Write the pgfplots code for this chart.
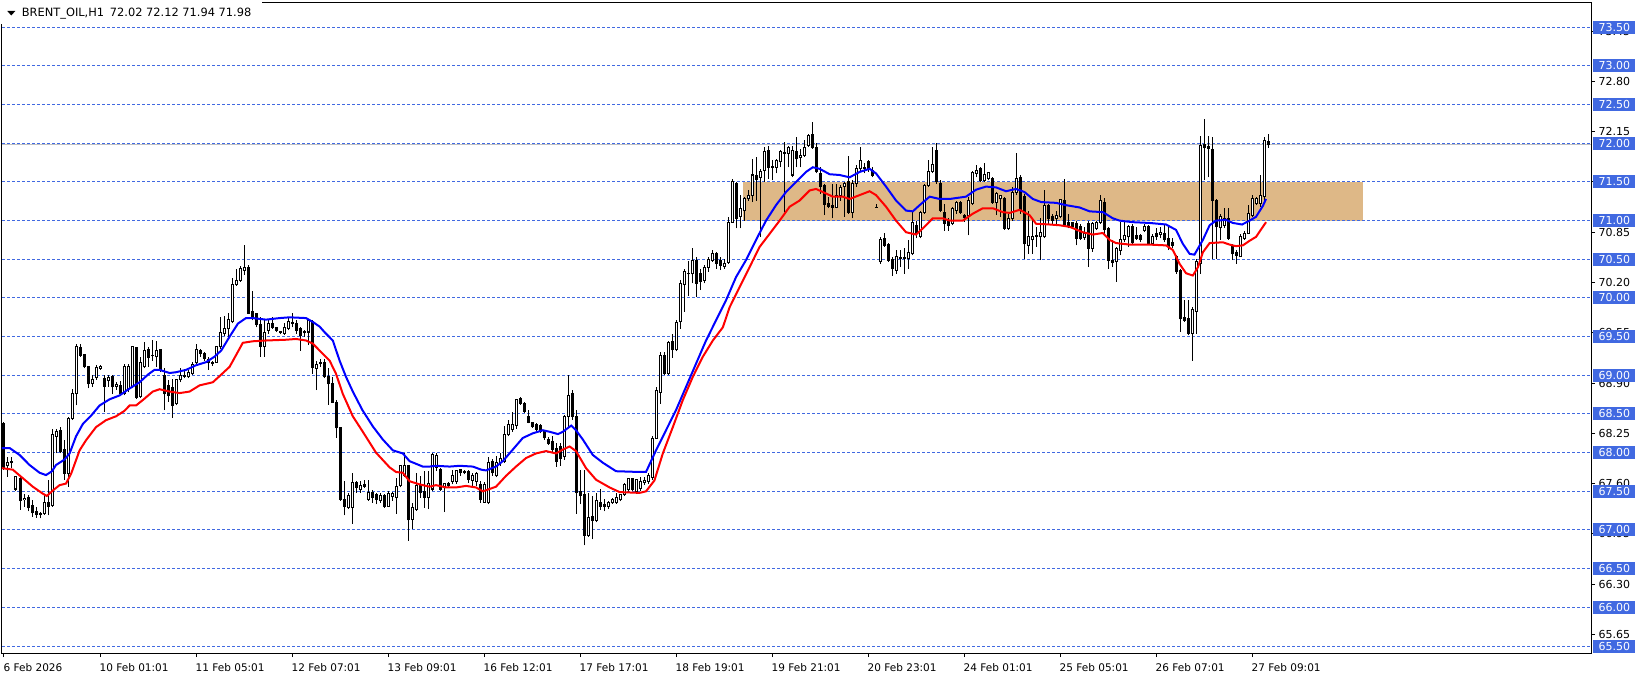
\documentclass[border=0pt]{standalone}
\usepackage{fontspec}
\setmainfont{DejaVu Sans}
\usepackage{pgfplots}
\usepackage{pgfplotstable}
\pgfplotsset{compat=1.18}

\definecolor{lvl}{RGB}{65,105,225}
\definecolor{zone}{RGB}{222,184,135}
\definecolor{bidline}{RGB}{192,192,192}

% H1 candles: bar index, open, high, low, close
\pgfplotstableread{
i o h l c
0 68.38 68.40 67.78 67.80
1 67.83 67.94 67.69 67.87
2 67.88 67.94 67.80 67.87
3 67.53 67.70 67.51 67.69
4 67.66 67.68 67.26 67.38
5 67.39 67.47 67.30 67.41
6 67.42 67.45 67.24 67.29
7 67.32 67.39 67.17 67.22
8 67.24 67.30 67.16 67.20
9 67.21 67.23 67.15 67.20
10 67.21 67.47 67.20 67.35
11 67.36 67.65 67.19 67.31
12 67.32 68.31 67.30 68.23
13 68.21 68.31 67.99 68.27
14 68.28 68.33 67.99 68.01
15 68.04 68.16 67.65 67.73
16 67.73 68.46 67.56 68.44
17 68.44 68.82 68.42 68.77
18 68.76 69.41 68.61 69.37
19 69.36 69.40 69.24 69.26
20 69.27 69.28 69.09 69.11
21 69.11 69.12 68.83 68.89
22 68.90 69.00 68.85 68.94
23 68.97 69.13 68.94 69.10
24 69.09 69.13 69.07 69.11
25 68.96 69.00 68.52 68.86
26 68.93 69.01 68.85 68.97
27 68.98 69.00 68.76 68.85
28 68.86 68.91 68.81 68.88
29 68.87 68.93 68.74 68.76
30 68.76 69.15 68.74 69.12
31 68.83 69.15 68.78 69.12
32 68.85 69.38 68.83 69.37
33 69.36 69.37 68.70 68.71
34 68.72 69.24 68.71 69.17
35 69.11 69.43 69.09 69.32
36 69.34 69.36 69.11 69.23
37 69.25 69.46 69.19 69.26
38 69.24 69.45 69.11 69.32
39 69.33 69.34 69.04 69.07
40 69.00 69.09 68.55 68.76
41 68.87 68.94 68.66 68.74
42 68.84 68.95 68.45 68.61
43 68.63 68.95 68.61 68.94
44 68.94 69.09 68.91 69.00
45 68.99 69.08 68.96 69.00
46 68.98 69.07 68.96 69.03
47 69.02 69.17 69.01 69.14
48 69.16 69.41 69.15 69.33
49 69.32 69.34 69.24 69.28
50 69.28 69.30 69.19 69.22
51 69.21 69.24 69.07 69.16
52 69.16 69.19 69.12 69.15
53 69.17 69.37 69.16 69.37
54 69.37 69.75 69.34 69.55
55 69.54 69.77 69.51 69.60
56 69.60 69.80 69.50 69.72
57 69.69 70.26 69.67 70.17
58 70.17 70.38 70.16 70.22
59 70.23 70.41 70.21 70.38
60 70.36 70.68 70.30 70.39
61 70.40 70.42 69.79 69.80
62 69.82 70.09 69.71 69.74
63 69.80 69.81 69.62 69.66
64 69.66 69.75 69.24 69.37
65 69.37 69.71 69.24 69.55
66 69.58 69.73 69.54 69.67
67 69.67 69.75 69.60 69.62
68 69.62 69.63 69.56 69.58
69 69.56 69.57 69.53 69.55
70 69.54 69.67 69.52 69.62
71 69.61 69.75 69.58 69.69
72 69.67 69.80 69.62 69.68
73 69.67 69.71 69.54 69.58
74 69.60 69.62 69.32 69.52
75 69.56 69.58 69.50 69.55
76 69.56 69.73 69.39 69.71
77 69.69 69.71 69.02 69.10
78 69.09 69.19 68.81 69.14
79 69.17 69.21 69.11 69.15
80 69.17 69.21 68.96 68.98
81 68.98 69.09 68.62 68.89
82 68.89 68.98 68.64 68.65
83 68.65 68.68 68.19 68.32
84 68.32 68.32 67.38 67.40
85 67.40 67.63 67.19 67.31
86 67.29 67.48 67.27 67.44
87 67.29 67.74 67.08 67.61
88 67.62 67.63 67.48 67.55
89 67.52 67.63 67.48 67.58
90 67.59 67.65 67.54 67.56
91 67.40 67.65 67.38 67.48
92 67.49 67.52 67.35 67.42
93 67.46 67.48 67.33 67.40
94 67.38 67.48 67.35 67.45
95 67.45 67.47 67.29 67.31
96 67.31 67.50 67.31 67.47
97 67.43 67.49 67.38 67.47
98 67.42 67.67 67.21 67.56
99 67.57 67.84 67.55 67.83
100 67.70 68.00 67.68 67.83
101 67.83 67.84 66.86 67.13
102 67.14 67.35 67.01 67.29
103 67.27 67.74 67.25 67.57
104 67.57 67.70 67.42 67.48
105 67.50 67.76 67.29 67.42
106 67.42 67.76 67.27 67.60
107 67.53 68.00 67.50 67.97
108 67.81 67.99 67.76 67.96
109 67.78 67.80 67.50 67.53
110 67.55 67.61 67.23 67.60
111 67.60 67.62 67.56 67.58
112 67.63 67.78 67.59 67.70
113 67.63 67.78 67.60 67.77
114 67.78 67.79 67.70 67.74
115 67.76 67.78 67.72 67.74
116 67.76 67.78 67.61 67.65
117 67.64 67.74 67.57 67.71
118 67.63 67.75 67.57 67.73
119 67.59 67.63 67.35 67.40
120 67.36 67.62 67.35 67.59
121 67.35 67.95 67.33 67.87
122 67.88 67.92 67.70 67.74
123 67.70 67.96 67.68 67.87
124 67.87 68.00 67.83 67.93
125 67.89 68.34 67.87 68.24
126 68.23 68.42 68.21 68.37
127 68.30 68.53 68.27 68.37
128 68.35 68.70 68.31 68.69
129 68.70 68.72 68.62 68.63
130 68.63 68.65 68.51 68.53
131 68.47 68.55 68.38 68.39
132 68.39 68.40 68.32 68.34
133 68.36 68.38 68.27 68.30
134 68.35 68.37 68.25 68.27
135 68.27 68.29 68.17 68.19
136 68.17 68.20 68.10 68.12
137 68.15 68.21 68.00 68.04
138 68.06 68.12 67.82 67.89
139 68.08 68.12 67.83 67.93
140 67.95 68.49 67.91 68.47
141 68.47 69.00 68.32 68.74
142 68.76 68.81 68.42 68.47
143 68.47 68.55 67.21 67.48
144 67.50 67.78 67.33 67.44
145 67.46 67.78 66.80 66.93
146 66.93 67.48 66.91 67.16
147 67.18 67.44 66.88 67.12
148 67.12 67.48 67.10 67.38
149 67.36 67.53 67.26 67.31
150 67.33 67.40 67.24 67.31
151 67.31 67.38 67.27 67.36
152 67.35 67.42 67.34 67.40
153 67.35 67.48 67.34 67.42
154 67.39 67.47 67.37 67.46
155 67.46 67.61 67.44 67.59
156 67.52 67.66 67.49 67.66
157 67.66 67.66 67.50 67.53
158 67.50 67.66 67.47 67.65
159 67.54 67.68 67.50 67.63
160 67.62 67.68 67.58 67.64
161 67.63 67.74 67.60 67.70
162 67.68 68.22 67.64 68.18
163 68.18 68.85 68.18 68.80
164 68.78 69.30 68.63 69.25
165 69.25 69.30 69.00 69.02
166 69.02 69.45 69.00 69.43
167 69.44 69.54 69.23 69.33
168 69.33 69.71 69.31 69.68
169 69.69 70.23 69.60 70.19
170 70.18 70.38 69.82 70.34
171 70.31 70.48 70.03 70.32
172 70.31 70.64 70.19 70.49
173 70.49 70.53 70.01 70.19
174 70.31 70.38 70.10 70.21
175 70.23 70.42 70.19 70.40
176 70.40 70.53 70.34 70.50
177 70.49 70.62 70.47 70.57
178 70.57 70.60 70.38 70.44
179 70.49 70.53 70.36 70.42
180 70.41 70.51 70.38 70.45
181 70.46 71.05 70.44 70.98
182 70.98 71.54 70.98 71.50
183 71.48 71.50 70.90 71.03
184 71.05 71.33 70.90 71.16
185 71.13 71.31 71.00 71.28
186 71.28 71.39 71.26 71.33
187 71.33 71.80 71.24 71.59
188 71.58 71.82 71.26 71.53
189 71.56 71.67 70.79 71.64
190 71.65 71.95 71.50 71.89
191 71.91 71.97 71.54 71.69
192 71.69 71.78 71.52 71.70
193 71.69 71.80 71.61 71.78
194 71.76 71.91 71.69 71.89
195 71.87 72.02 71.11 71.88
196 71.87 71.97 71.69 71.95
197 71.59 71.97 71.56 71.91
198 71.89 72.08 71.69 71.80
199 71.82 71.93 71.69 71.84
200 71.84 72.04 71.82 71.95
201 71.97 72.12 71.95 72.10
202 72.12 72.27 71.93 71.95
203 71.95 72.00 71.61 71.63
204 71.61 71.69 71.35 71.44
205 71.46 71.48 71.07 71.21
206 71.22 71.30 71.16 71.18
207 71.19 71.48 71.03 71.17
208 71.17 71.48 71.16 71.33
209 71.33 71.46 71.26 71.43
210 71.44 71.50 71.05 71.48
211 71.50 71.84 71.09 71.11
212 71.11 71.52 71.03 71.48
213 71.48 71.72 71.44 71.67
214 71.67 71.95 71.63 71.78
215 71.69 71.74 71.61 71.68
216 71.76 71.78 71.63 71.67
217 71.65 71.69 71.56 71.59
218 71.17 71.21 71.17 71.17
219 70.47 70.79 70.44 70.75
220 70.77 70.84 70.66 70.68
221 70.69 70.71 70.47 70.49
222 70.50 70.53 70.29 70.38
223 70.36 70.62 70.31 70.53
224 70.52 70.62 70.40 70.51
225 70.51 70.64 70.31 70.52
226 70.51 70.75 70.38 70.59
227 70.57 71.11 70.55 70.98
228 70.94 71.00 70.77 70.83
229 70.79 71.13 70.77 71.11
230 71.11 71.48 71.09 71.46
231 71.46 71.78 71.44 71.64
232 71.64 71.95 71.61 71.73
233 71.91 72.00 71.48 71.50
234 71.48 71.52 71.11 71.13
235 71.11 71.22 70.87 70.96
236 71.00 71.03 70.87 70.94
237 70.96 71.18 70.94 71.16
238 71.13 71.26 71.09 71.24
239 71.24 71.26 71.09 71.11
240 71.06 71.09 70.98 71.04
241 71.07 71.31 70.81 71.26
242 71.22 71.64 71.20 71.62
243 71.61 71.72 71.56 71.65
244 71.67 71.69 71.50 71.52
245 71.52 71.74 71.50 71.60
246 71.54 71.63 71.52 71.62
247 71.54 71.56 71.22 71.24
248 71.24 71.37 71.07 71.35
249 71.28 71.33 71.05 71.32
250 71.29 71.31 70.88 70.90
251 70.90 71.09 70.88 71.03
252 71.03 71.44 71.00 71.37
253 71.37 71.87 71.33 71.54
254 71.56 71.59 71.09 71.13
255 71.31 71.35 70.51 70.70
256 70.68 71.13 70.57 70.79
257 70.75 71.03 70.57 70.80
258 70.81 70.92 70.66 70.80
259 70.79 71.03 70.49 70.85
260 70.79 71.39 70.77 71.20
261 71.20 71.22 70.96 71.03
262 71.05 71.09 70.96 71.00
263 71.03 71.13 70.93 71.07
264 71.05 71.28 71.03 71.27
265 71.26 71.54 70.92 70.94
266 70.97 71.09 70.90 70.92
267 70.97 70.98 70.90 70.93
268 70.96 71.00 70.68 70.77
269 70.92 70.96 70.75 70.77
270 70.78 70.92 70.75 70.84
271 70.96 71.00 70.40 70.64
272 70.64 70.98 70.60 70.96
273 70.90 71.00 70.88 70.98
274 70.98 71.33 70.96 71.26
275 71.24 71.29 70.80 70.88
276 70.90 70.92 70.38 70.49
277 70.48 70.75 70.40 70.46
278 70.47 70.66 70.21 70.64
279 70.62 70.98 70.55 70.75
280 70.75 70.98 70.72 70.81
281 70.79 70.94 70.66 70.92
282 70.92 70.96 70.70 70.72
283 70.81 70.92 70.75 70.77
284 70.81 70.83 70.72 70.75
285 70.87 70.96 70.85 70.92
286 70.92 70.94 70.69 70.70
287 70.70 70.83 70.68 70.79
288 70.83 70.90 70.75 70.79
289 70.82 70.92 70.77 70.85
290 70.83 70.94 70.72 70.75
291 70.77 70.92 70.62 70.66
292 70.72 70.77 70.64 70.68
293 70.53 70.55 70.31 70.34
294 70.35 70.38 69.56 69.73
295 69.75 69.97 69.69 69.71
296 69.73 69.97 69.52 69.54
297 69.54 69.88 69.19 69.85
298 69.83 70.50 69.54 70.47
299 70.44 72.10 70.31 71.97
300 71.99 72.31 71.52 71.94
301 71.96 72.10 71.56 71.93
302 71.92 72.08 70.51 71.26
303 71.26 71.28 70.51 70.92
304 70.91 71.09 70.75 71.05
305 70.94 71.16 70.90 71.03
306 71.03 71.16 70.75 70.77
307 70.68 70.70 70.49 70.57
308 70.59 70.62 70.44 70.55
309 70.53 70.83 70.53 70.80
310 70.77 70.87 70.75 70.84
311 70.84 71.20 70.83 71.09
312 71.07 71.33 71.05 71.28
313 71.22 71.31 71.20 71.28
314 71.22 71.59 71.18 71.33
315 71.31 72.08 71.26 72.04
316 72.02 72.12 71.94 71.98
}\candles

% upper moving average (blue)
\pgfplotstableread{
i p
-0.5 68.06
1.4 68.06
3.9 67.97
6.4 67.84
8.9 67.74
10.5 67.71
12 67.76
13 67.84
15.1 67.91
16.4 67.99
18 68.21
19.7 68.37
21.8 68.48
23.9 68.61
26.4 68.69
28.9 68.74
31.4 68.83
33.9 68.91
36 69.01
37.6 69.07
38.9 69.07
41.4 69.03
43 69.04
45.5 69.07
48 69.13
50.5 69.17
52.6 69.24
54.3 69.32
56.4 69.50
58.5 69.67
60.5 69.74
62.2 69.74
65.5 69.72
68.9 69.74
71.4 69.75
75.5 69.74
77.2 69.69
78.9 69.63
80.1 69.56
82.2 69.45
83.9 69.19
85.5 68.98
87.2 68.79
89.6 68.55
92.2 68.34
94.7 68.17
97.2 68.03
99.7 67.99
101.4 67.89
104.7 67.82
106.4 67.82
108 67.83
111.4 67.82
113.9 67.83
117.2 67.82
119.3 67.78
120.5 67.77
123 67.82
124.7 67.89
127.2 68.04
129.7 68.19
132.2 68.25
134.7 68.29
136.4 68.27
138.5 68.24
139.7 68.27
141.8 68.35
143 68.29
144.7 68.17
147.2 67.97
149.7 67.87
153 67.76
158.9 67.75
160.5 67.75
163 68.03
165.5 68.29
168 68.55
170.5 68.85
173 69.15
175.5 69.45
178 69.71
180.5 69.97
183 70.27
185.5 70.49
188 70.75
190.5 71.00
193 71.20
195.5 71.37
198 71.50
200.5 71.63
202.2 71.69
203.9 71.67
206.4 71.60
208.9 71.59
211.4 71.56
213.9 71.63
216.4 71.67
218 71.61
220.5 71.44
223 71.26
225.5 71.13
227.2 71.12
228.9 71.20
231.4 71.31
233.9 71.28
236.4 71.28
240.5 71.31
243 71.40
245.5 71.44
248 71.43
250.5 71.38
253 71.41
255.1 71.37
257.2 71.28
259.3 71.24
263 71.23
265.5 71.20
268.9 71.17
271.4 71.12
274.7 71.11
277.2 71.03
278.9 71.00
282.2 70.98
286.4 70.97
290.5 70.95
293 70.88
294.7 70.70
296.4 70.57
297.6 70.56
299.7 70.75
301.4 70.94
303 71.00
305.5 71.01
307.2 70.97
309.5 70.95
311.4 71.00
313 71.05
314.7 71.19
315.5 71.28
}\mahigh

% lower moving average (red)
\pgfplotstableread{
i p
-0.5 67.80
2.2 67.78
4.7 67.67
7.2 67.56
9.7 67.47
10.7 67.44
12.2 67.51
13.9 67.58
15.5 67.60
16.8 67.73
18.9 68.03
20.5 68.16
23 68.33
25.5 68.42
28 68.47
30.1 68.54
31.4 68.61
33 68.61
34.7 68.68
37.2 68.79
38.9 68.82
41.4 68.79
43.9 68.77
46.4 68.79
48.9 68.87
52.2 68.91
53.9 68.99
56.4 69.11
58 69.26
59.7 69.42
62.2 69.44
65.5 69.45
70.5 69.46
73 69.47
75.5 69.45
77.2 69.41
78.9 69.32
81.4 69.19
83 69.02
84.7 68.76
87.2 68.47
89.7 68.27
93 68.00
96.4 67.81
98 67.75
99.7 67.74
101.4 67.63
103.9 67.59
106.4 67.56
108 67.58
110.5 67.55
113 67.55
115.5 67.57
118 67.55
119.7 67.50
121.4 67.53
123 67.56
125.5 67.70
128 67.82
130.5 67.93
133 67.99
135.5 68.02
138 67.99
139.7 68.04
141.4 68.08
143 68.02
145.5 67.80
148 67.65
151.4 67.55
153.9 67.49
158.9 67.48
160.5 67.50
162.6 67.64
164.7 67.99
167.2 68.33
169.7 68.68
172.2 68.98
174.7 69.24
177.2 69.45
179.7 69.62
181.4 69.88
183.9 70.14
186.4 70.40
188.9 70.66
191.4 70.83
193.9 71.00
196.4 71.18
198.9 71.26
201.4 71.39
203 71.41
204.7 71.37
207.2 71.31
209.7 71.31
211.4 71.28
213.9 71.33
216.4 71.38
218 71.33
220.5 71.18
223 71.00
225.5 70.85
228 70.82
229.7 70.90
232.2 71.03
234.7 71.03
236.4 71.00
239.7 71.00
242.2 71.09
244.7 71.16
247.2 71.16
249.7 71.11
251.4 71.10
253.9 71.14
256.4 71.07
258 70.96
261.4 70.95
263.9 70.94
266.4 70.92
269.7 70.85
272.2 70.82
274.7 70.84
276.4 70.75
278 70.71
281.4 70.69
286.4 70.69
290.5 70.68
292.2 70.62
293.9 70.44
295.5 70.32
297.2 70.29
298.5 70.40
299.7 70.59
301.4 70.71
304.7 70.72
306.4 70.69
308 70.67
309.7 70.68
311.4 70.74
313 70.79
314.7 70.92
315.5 70.98
}\malow

\pgfplotsset{chartbox/.style={
  scale only axis, width=1589pt, height=650pt,
  xmin=-0.5, xmax=396.75, ymin=65.4095, ymax=73.814,
  at={(2pt,25pt)}, anchor=south west}}

\newcommand{\lvlbox}[2]{\node[anchor=west, xshift=2pt, fill=lvl, text=white, inner sep=0pt,
  minimum width=42pt, minimum height=13pt, font=\fontsize{11}{13}\selectfont] at (axis cs:396.75,#1) {#2};}

\begin{document}
\begin{tikzpicture}
\useasboundingbox (0,0) rectangle (1641pt,678pt);
\begin{axis}[chartbox,
  clip mode=individual,
  axis line style={black, line width=1pt},
  tick style={black, line width=1pt},
  tick align=outside,
  major tick length=4pt,
  xtick pos=left, xticklabel pos=left,
  ytick pos=right, yticklabel pos=right,
  xtick={0,24,...,312},
  xticklabels={6 Feb 2026,10 Feb 01:01,11 Feb 05:01,12 Feb 07:01,13 Feb 09:01,16 Feb 12:01,17 Feb 17:01,18 Feb 19:01,19 Feb 21:01,20 Feb 23:01,24 Feb 01:01,25 Feb 05:01,26 Feb 07:01,27 Feb 09:01},
  xticklabel style={anchor=north west, inner sep=0pt, xshift=-0.5pt, yshift=-6.5pt, font=\fontsize{10.5}{12}\selectfont},
  ytick={65.65,66.30,66.95,67.60,68.25,68.90,69.55,70.20,70.85,71.50,72.15,72.80,73.45},
  yticklabels={65.65,66.30,66.95,67.60,68.25,68.90,69.55,70.20,70.85,71.50,72.15,72.80,73.45},
  yticklabel style={anchor=west, font=\fontsize{11}{13}\selectfont},
]
% resistance zone
\addplot[draw=none, fill=zone, forget plot] coordinates {(184.8,71.0) (339.7,71.0) (339.7,71.5) (184.8,71.5)};
% bid line
\addplot[bidline, line width=1pt, forget plot] coordinates {(-0.5,71.98) (396.75,71.98)};
% horizontal levels
\pgfplotsinvokeforeach{65.5,66,66.5,67,67.5,68,68.5,69,69.5,70,70.5,71,71.5,72,72.5,73,73.5}{
  \addplot[lvl, line width=1pt, dash pattern=on 3pt off 2pt, forget plot] coordinates {(-0.5,#1) (396.75,#1)};
}
% wicks
\addplot[draw=none, mark=none, forget plot,
  error bars/.cd, y dir=plus, y explicit, error mark=none,
  error bar style={draw=black, line width=1pt, solid}]
  table[x=i, y=l, y error plus expr=\thisrow{h}-\thisrow{l}] {\candles};
% bodies
\addplot[draw=none, mark=none, forget plot,
  error bars/.cd, y dir=plus, y explicit, error mark=none,
  error bar style={draw=black, line width=3pt, solid}]
  table[x=i, y expr={min(\thisrow{o},\thisrow{c})-0.0065},
        y error plus expr={abs(\thisrow{c}-\thisrow{o})+0.013}] {\candles};
% hollow up candles
\addplot[draw=none, mark=none, forget plot,
  error bars/.cd, y dir=plus, y explicit, error mark=none,
  error bar style={draw=white, line width=1pt, solid}]
  table[x=i, y expr={\thisrow{o}+0.0065},
        y error plus expr={max(0,\thisrow{c}-\thisrow{o}-0.013)}] {\candles};
% moving averages
\addplot[blue, line width=2pt, mark=none] table[x=i, y=p] {\mahigh};
\addplot[red, line width=2pt, mark=none] table[x=i, y=p] {\malow};
\end{axis}

\begin{axis}[chartbox, hide axis, clip=false]
\lvlbox{65.5}{65.50}
\lvlbox{66}{66.00}
\lvlbox{66.5}{66.50}
\lvlbox{67}{67.00}
\lvlbox{67.5}{67.50}
\lvlbox{68}{68.00}
\lvlbox{68.5}{68.50}
\lvlbox{69}{69.00}
\lvlbox{69.5}{69.50}
\lvlbox{70}{70.00}
\lvlbox{70.5}{70.50}
\lvlbox{71}{71.00}
\lvlbox{71.5}{71.50}
\lvlbox{72}{72.00}
\lvlbox{72.5}{72.50}
\lvlbox{73}{73.00}
\lvlbox{73.5}{73.50}
\end{axis}

% chart header
\fill[white] (0pt,654pt) rectangle (262pt,678pt);
\fill[black] (7.3pt,667pt) -- (15.3pt,667pt) -- (11.3pt,662.5pt) -- cycle;
\node[anchor=base west, inner sep=0pt, font=\fontsize{11.4}{13}\selectfont] at (21.7pt,661pt)
  {BRENT\_OIL,H1\hspace{2.2pt} 72.02 72.12 71.94 71.98};
\end{tikzpicture}
\end{document}
